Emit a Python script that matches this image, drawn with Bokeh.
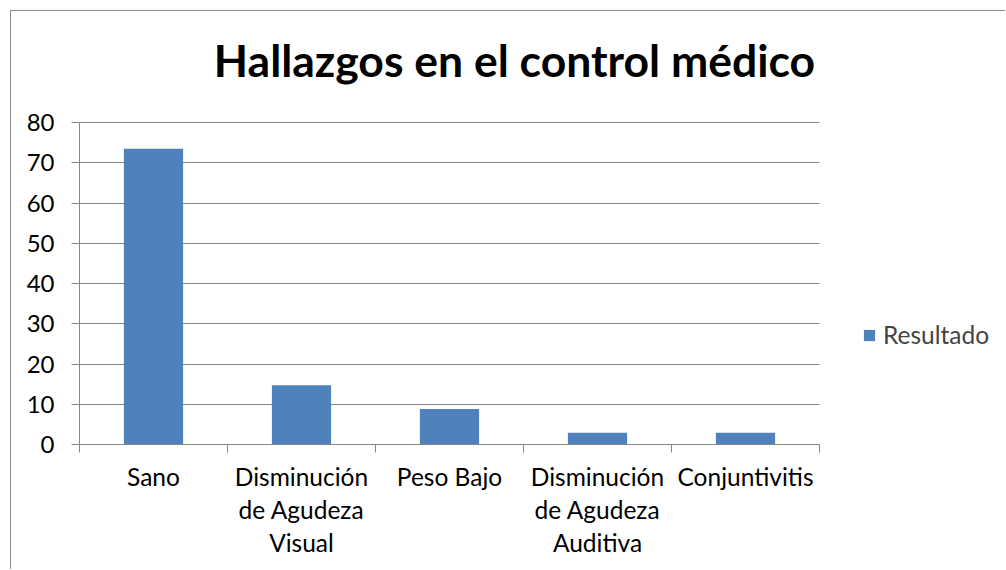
from bokeh.plotting import figure
from bokeh.models import Range1d, FixedTicker, Legend, LegendItem, Label
from bokeh.embed import file_html
from bokeh.resources import INLINE

title_text = "Hallazgos en el control médico"
categories = ["Sano", "Disminución\nde Agudeza\nVisual", "Peso Bajo",
              "Disminución\nde Agudeza\nAuditiva", "Conjuntivitis"]
series_name = "Resultado"
values = [73.5, 14.7, 8.8, 2.9, 2.9]
y_ticks = [0, 10, 20, 30, 40, 50, 60, 70, 80]

FONT = "Lato"
GRAY = "#868686"
BLUE = "#4F81BD"

# layout (pixels on the canvas)
W, H = 995, 559
LEFT, BOTTOM = 68, 126          # room for the axes
PLOT_W, PLOT_H = 740, 322       # size of the bar area proper
frame_w, frame_h = W - LEFT, H - BOTTOM

n = len(categories)
y_max = y_ticks[-1]
xs = [i + 0.5 for i in range(n)]
x_end = n * frame_w / PLOT_W     # frame extends right for the legend
y_end = y_max * frame_h / PLOT_H  # and up for the title

p = figure(width=W, height=H, output_backend="svg", toolbar_location=None,
           x_range=Range1d(0, x_end), y_range=Range1d(0, y_end),
           min_border_left=LEFT, min_border_top=0, min_border_right=0,
           min_border_bottom=BOTTOM)
p.styles = {"border-left": "1px solid #8c8c8c", "border-top": "1px solid #8c8c8c",
            "margin-left": "10px", "margin-top": "10px"}
p.outline_line_color = None
p.background_fill_color = "white"
p.border_fill_color = "white"

r = p.vbar(x=xs, top=values, width=0.4, fill_color=BLUE, line_color=None)

# y axis
p.yaxis.ticker = FixedTicker(ticks=y_ticks)
p.yaxis.bounds = (0, y_max)
p.yaxis.axis_line_color = GRAY
p.yaxis.major_tick_line_color = GRAY
p.yaxis.major_tick_out = 8
p.yaxis.major_tick_in = 0
p.yaxis.minor_tick_line_color = None
p.yaxis.major_label_text_font = FONT
p.yaxis.major_label_text_font_size = "24px"
p.yaxis.major_label_text_color = "black"
p.yaxis.major_label_standoff = 17
p.ygrid.ticker = FixedTicker(ticks=y_ticks)
p.ygrid.cross_bounds = (0, n)
p.ygrid.grid_line_color = GRAY
p.xgrid.grid_line_color = None

# x axis
p.xaxis.ticker = FixedTicker(ticks=xs, minor_ticks=list(range(n + 1)))
p.xaxis.bounds = (0, n)
p.xaxis.major_label_overrides = {x: c for x, c in zip(xs, categories)}
p.xaxis.axis_line_color = GRAY
p.xaxis.major_tick_line_color = None
p.xaxis.minor_tick_line_color = GRAY
p.xaxis.minor_tick_out = 8
p.xaxis.minor_tick_in = 0
p.xaxis.major_label_text_font = FONT
p.xaxis.major_label_text_font_size = "24.5px"
p.xaxis.major_label_text_color = "black"
p.xaxis.major_label_text_line_height = 1.15
p.xaxis.major_label_standoff = 9

# title, centred on the whole chart
px_x = n / PLOT_W
px_y = y_max / PLOT_H
p.add_layout(Label(x=(514 - 79) * px_x, y=(444 - 59) * px_y, text=title_text,
                   text_align="center", text_baseline="alphabetic",
                   text_font=FONT, text_font_style="bold",
                   text_font_size="44.5px", text_color="black"))

legend = Legend(items=[LegendItem(label=series_name, renderers=[r])],
                location=(783, 95), border_line_color=None,
                background_fill_alpha=0, padding=0, margin=0,
                glyph_width=14, glyph_height=14, label_standoff=7,
                label_text_font=FONT, label_text_font_size="24.5px")
p.add_layout(legend)

open("out.html", "w").write(file_html(p, INLINE))
